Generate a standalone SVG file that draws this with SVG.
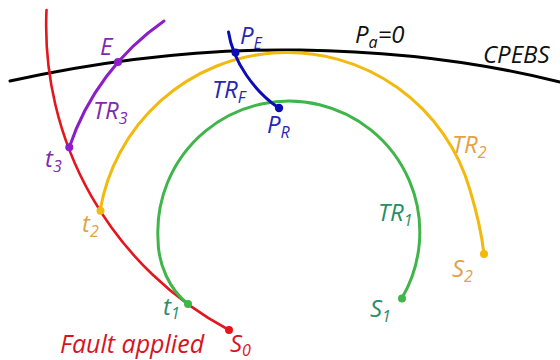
<svg xmlns="http://www.w3.org/2000/svg" width="560" height="360" viewBox="0 0 560 360">
  <style>
    .ln { fill: none; stroke-linecap: round; }
    .t { font-family: "Open Sans", "Liberation Sans", Arial, sans-serif; font-style: italic; font-size: 24px; }
    .s { font-size: 16px; }
    .red { fill: #d7141e; }
    .pur { fill: #7f2aae; }
    .blu { fill: #2626b0; }
    .org { fill: #e3a24a; }
    .grn { fill: #2a8c6a; }
    .blk { fill: #111111; }
  </style>
  <rect width="560" height="360" fill="#ffffff"/>
  <g id="connectors">
    <path id="cpebs" class="ln" d="M10,81 Q160,48 300,50 Q440,52 560,82" stroke="#000000" stroke-width="3"/>
    <path id="fault" class="ln" d="M46.5,10 A345,345 0 0 0 229,330" stroke="#e3161e" stroke-width="2.6"/>
    <path id="tr2" class="ln" d="M100,211 A190,190 0 0 1 470,190 C476,210 481,228 484,254" stroke="#f2b90f" stroke-width="3"/>
    <path id="tr1" class="ln" d="M188,304 C170,290 158,265 158,239 A131,131 0 1 1 402,298" stroke="#3fb54a" stroke-width="3"/>
    <path id="tr3" class="ln" d="M69.3,147.3 A250,250 0 0 1 164,21" stroke="#8b1ec6" stroke-width="3"/>
    <path id="trf" class="ln" d="M228.5,32 C233,62 255,92 279,108" stroke="#0c0cb4" stroke-width="3"/>
  </g>
  <g id="node-E"><circle cx="118" cy="62" r="4" fill="#8b1ec6"/><text class="t pur" x="100" y="55">E</text></g>
  <g id="node-t3"><circle cx="69.3" cy="147.3" r="4" fill="#8b1ec6"/><text class="t pur" x="45" y="167">t<tspan class="s" dy="5">3</tspan></text></g>
  <g id="label-TR3"><text class="t pur" x="93" y="119">TR<tspan class="s" dy="5">3</tspan></text></g>
  <g id="node-PE"><circle cx="235.5" cy="52.5" r="4" fill="#0c0cb4"/><text class="t blu" x="240" y="44">P<tspan class="s" dy="5">E</tspan></text></g>
  <g id="node-PR"><circle cx="279" cy="108" r="4.2" fill="#0c0cb4"/><text class="t blu" x="267" y="133">P<tspan class="s" dy="5">R</tspan></text></g>
  <g id="label-TRF"><text class="t blu" x="212" y="98">TR<tspan class="s" dy="5">F</tspan></text></g>
  <g id="label-Pa"><text class="t blk" x="355" y="43">P<tspan class="s" dy="5">a</tspan><tspan dy="-5">=0</tspan></text></g>
  <g id="label-CPEBS"><text class="t blk" x="483" y="63">CPEBS</text></g>
  <g id="label-TR2"><text class="t org" x="452" y="153">TR<tspan class="s" dy="5">2</tspan></text></g>
  <g id="node-t2"><circle cx="100.5" cy="210.7" r="4" fill="#f2b90f"/><text class="t org" x="82" y="232">t<tspan class="s" dy="5">2</tspan></text></g>
  <g id="node-S2"><circle cx="484" cy="254" r="4" fill="#f2b90f"/><text class="t org" x="452" y="277">S<tspan class="s" dy="5">2</tspan></text></g>
  <g id="label-TR1"><text class="t grn" x="378" y="221">TR<tspan class="s" dy="5">1</tspan></text></g>
  <g id="node-t1"><circle cx="188" cy="304" r="4" fill="#3fb54a"/><text class="t grn" x="163" y="315">t<tspan class="s" dy="4">1</tspan></text></g>
  <g id="node-S1"><circle cx="402" cy="298.5" r="4" fill="#3fb54a"/><text class="t grn" x="370" y="317">S<tspan class="s" dy="5">1</tspan></text></g>
  <g id="node-S0"><circle cx="229" cy="330" r="4" fill="#e3161e"/><text class="t red" x="230" y="352">S<tspan class="s" dy="4">0</tspan></text></g>
  <g id="label-fault"><text class="t red" x="60" y="353" style="font-size:25px">Fault applied</text></g>
</svg>
